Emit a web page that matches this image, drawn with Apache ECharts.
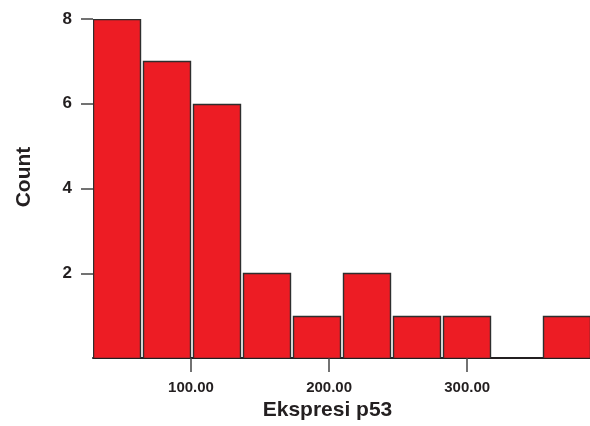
<!DOCTYPE html>
<html>
<head>
<meta charset="utf-8">
<script src="https://cdn.jsdelivr.net/npm/echarts@6/dist/echarts.min.js"></script>
<style>html,body{margin:0;padding:0;background:#fff;}#c{width:590px;height:426px;}</style>
</head>
<body>
<div id="c"></div>
<script>
// Histogram bins (lower edge, upper edge) and counts
var binStart = [29.0, 65.2, 101.4, 137.6, 173.8, 210.0, 246.2, 282.4, 318.6, 354.8];
var binEnd   = [65.2, 101.4, 137.6, 173.8, 210.0, 246.2, 282.4, 318.6, 354.8, 391.0];
var counts   = [8, 7, 6, 2, 1, 2, 1, 1, 0, 1];
var xTicks = [100, 200, 300];
var yTicks = [2, 4, 6, 8];
var xName = 'Ekspresi p53';
var yName = 'Count';

var data = binStart.map(function (s, i) { return [s, binEnd[i], counts[i]]; });
var font = 'Liberation Sans, Arial, sans-serif';
var txt = '#231F20';

var chart = echarts.init(document.getElementById('c'), null, {renderer: 'canvas'});
chart.setOption({
  animation: false,
  backgroundColor: '#fff',
  grid: {left: 93, right: 0, top: 19, bottom: 64},
  xAxis: {
    type: 'value', min: 29, max: 389,
    name: xName, nameLocation: 'middle', nameGap: 42,
    nameTextStyle: {fontFamily: font, fontWeight: 'bold', fontSize: 21, color: txt, padding: [0, 28, 0, 0]},
    axisLine: {show: true, lineStyle: {color: '#231F20', width: 2}},
    axisTick: {show: true, customValues: xTicks, length: 14, lineStyle: {color: '#444', width: 1.5}},
    axisLabel: {customValues: xTicks, formatter: function (v) { return v.toFixed(2); },
      fontFamily: font, fontWeight: 'bold', fontSize: 15, color: txt, margin: 22},
    splitLine: {show: false}
  },
  yAxis: {
    type: 'value', min: 0, max: 8,
    name: yName, nameLocation: 'middle', nameGap: 58, nameRotate: 90,
    nameTextStyle: {fontFamily: font, fontWeight: 'bold', fontSize: 21, color: txt, padding: [0, 0, 0, 23]},
    axisLine: {show: false},
    axisTick: {show: true, customValues: yTicks, inside: false, length: 12, lineStyle: {color: '#444', width: 1.5}},
    axisLabel: {customValues: yTicks, fontFamily: font, fontWeight: 'bold', fontSize: 17, color: txt, margin: 21},
    splitLine: {show: false}
  },
  series: [{
    type: 'custom',
    clip: true,
    data: data,
    encode: {x: [0, 1], y: 2},
    renderItem: function (params, api) {
      var c = api.value(2);
      if (!c) return null;
      var p0 = api.coord([api.value(0), 0]);
      var p1 = api.coord([api.value(1), c]);
      return {
        type: 'rect',
        shape: {x: Math.round(p0[0]) + 0.5, y: Math.round(p1[1]) + 0.5,
                width: Math.round(p1[0] - p0[0]) - 3, height: Math.round(p0[1] - p1[1])},
        style: {fill: '#ED1C24', stroke: '#2E2E2E', lineWidth: 1.4}
      };
    }
  }]
});
</script>
</body>
</html>
